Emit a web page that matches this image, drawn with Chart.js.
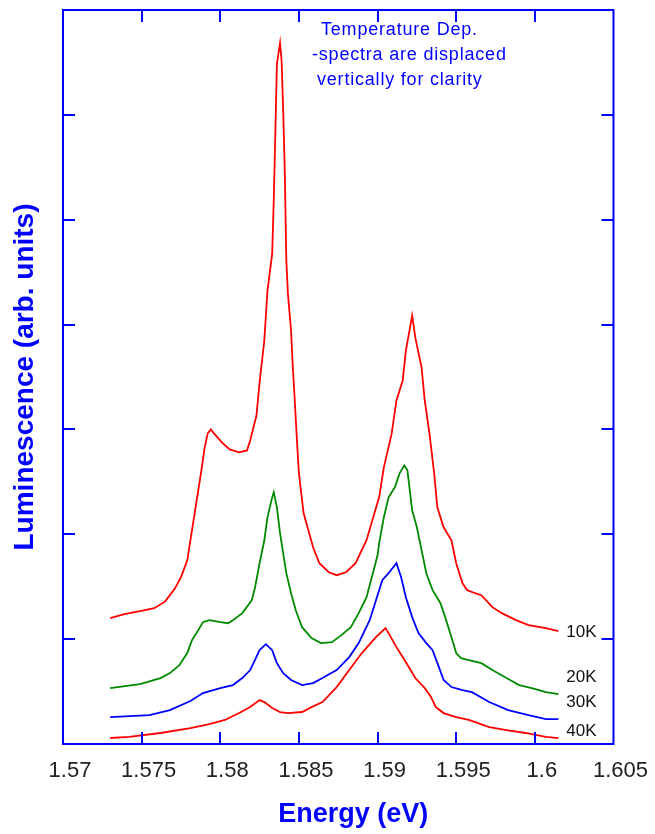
<!DOCTYPE html>
<html>
<head>
<meta charset="utf-8">
<title>Luminescence spectra</title>
<script src="https://cdn.jsdelivr.net/npm/chart.js@4/dist/chart.umd.min.js"></script>
<style>
  html, body { margin: 0; padding: 0; background: #fff; }
  canvas { display: block; }
</style>
</head>
<body>
<canvas id="spec" width="655" height="834"></canvas>
<script>
// Espectros de luminiscencia [energía (eV), intensidad desplazada]
const k10 = [
  [1.5730,1.200],[1.5739,1.238],[1.5749,1.267],[1.5758,1.295],[1.5765,1.360],[1.5771,1.480],
  [1.5775,1.590],[1.5779,1.752],[1.5782,2.038],[1.5785,2.324],[1.5788,2.610],[1.5790,2.819],
  [1.5792,2.962],[1.5794,3.000],[1.5796,2.962],[1.5801,2.876],[1.5806,2.810],[1.5812,2.781],
  [1.5817,2.800],[1.5819,2.895],[1.5823,3.133],[1.5825,3.448],[1.5828,3.848],[1.5830,4.324],
  [1.5833,4.676],[1.5834,5.181],[1.5835,5.819],[1.5836,6.486],[1.5838,6.686],[1.5839,6.514],
  [1.5840,6.038],[1.5841,5.467],[1.5842,4.610],[1.5843,4.295],[1.5845,3.943],[1.5846,3.629],
  [1.5847,3.371],[1.5849,2.829],[1.5850,2.581],[1.5853,2.200],[1.5859,1.876],[1.5863,1.724],
  [1.5869,1.638],[1.5874,1.610],[1.5880,1.638],[1.5886,1.724],[1.5893,1.943],[1.5898,2.200],
  [1.5901,2.352],[1.5904,2.638],[1.5909,2.962],[1.5912,3.276],[1.5916,3.467],[1.5918,3.752],
  [1.5922,4.086],[1.5924,3.876],[1.5928,3.590],[1.5930,3.276],[1.5933,2.962],[1.5936,2.581],
  [1.5938,2.257],[1.5942,2.067],[1.5947,1.943],[1.5950,1.724],[1.5954,1.533],[1.5957,1.467],
  [1.5962,1.438],[1.5966,1.419],[1.5973,1.305],[1.5979,1.248],[1.5988,1.181],[1.5996,1.133],
  [1.6007,1.105],[1.6015,1.076]
];
const k20 = [
  [1.5730,0.533],[1.5749,0.571],[1.5762,0.629],[1.5768,0.676],[1.5774,0.752],[1.5779,0.867],
  [1.5782,0.990],[1.5786,1.086],[1.5789,1.162],[1.5793,1.181],[1.5800,1.162],[1.5805,1.152],
  [1.5808,1.181],[1.5814,1.248],[1.5820,1.371],[1.5822,1.486],[1.5825,1.724],[1.5828,1.943],
  [1.5830,2.162],[1.5833,2.352],[1.5834,2.400],[1.5836,2.257],[1.5838,2.010],[1.5840,1.819],
  [1.5842,1.629],[1.5845,1.438],[1.5848,1.276],[1.5852,1.114],[1.5858,1.010],[1.5864,0.962],
  [1.5871,0.971],[1.5877,1.038],[1.5883,1.114],[1.5888,1.248],[1.5893,1.400],[1.5897,1.629],
  [1.5900,1.800],[1.5901,1.914],[1.5904,2.162],[1.5907,2.352],[1.5911,2.448],[1.5914,2.581],
  [1.5917,2.657],[1.5919,2.610],[1.5922,2.229],[1.5925,2.067],[1.5928,1.848],[1.5931,1.629],
  [1.5935,1.467],[1.5940,1.343],[1.5943,1.210],[1.5947,1.019],[1.5950,0.867],[1.5953,0.819],
  [1.5958,0.800],[1.5966,0.771],[1.5973,0.705],[1.5982,0.629],[1.5990,0.562],[1.5998,0.533],
  [1.6007,0.495],[1.6015,0.476]
];
const k30 = [
  [1.5730,0.257],[1.5755,0.276],[1.5768,0.324],[1.5781,0.410],[1.5789,0.486],[1.5800,0.533],
  [1.5808,0.562],[1.5814,0.629],[1.5819,0.705],[1.5822,0.800],[1.5825,0.895],[1.5829,0.952],
  [1.5833,0.895],[1.5836,0.771],[1.5840,0.676],[1.5845,0.610],[1.5852,0.562],[1.5859,0.581],
  [1.5865,0.629],[1.5874,0.705],[1.5882,0.829],[1.5888,0.962],[1.5895,1.181],[1.5899,1.371],
  [1.5903,1.562],[1.5907,1.629],[1.5912,1.724],[1.5915,1.590],[1.5918,1.400],[1.5922,1.210],
  [1.5926,1.057],[1.5931,0.962],[1.5935,0.895],[1.5939,0.733],[1.5942,0.610],[1.5947,0.543],
  [1.5954,0.514],[1.5960,0.495],[1.5971,0.400],[1.5983,0.324],[1.5996,0.276],[1.6007,0.238],
  [1.6015,0.238]
];
const k40 = [
  [1.5730,0.057],[1.5742,0.067],[1.5762,0.105],[1.5781,0.152],[1.5793,0.190],[1.5803,0.229],
  [1.5812,0.295],[1.5819,0.352],[1.5825,0.419],[1.5828,0.400],[1.5833,0.343],[1.5838,0.305],
  [1.5843,0.295],[1.5852,0.305],[1.5858,0.352],[1.5865,0.400],[1.5874,0.543],[1.5882,0.705],
  [1.5890,0.867],[1.5899,1.019],[1.5905,1.105],[1.5907,1.057],[1.5912,0.924],[1.5916,0.829],
  [1.5921,0.705],[1.5924,0.629],[1.5930,0.533],[1.5934,0.448],[1.5937,0.352],[1.5942,0.295],
  [1.5950,0.257],[1.5958,0.229],[1.5971,0.162],[1.5982,0.133],[1.5994,0.105],[1.6007,0.067],
  [1.6015,0.057]
];

const temps   = ['10K', '20K', '30K', '40K'];
const colores = ['#ff0000', '#008a00', '#0000ff', '#ff0000'];
// posición de las etiquetas de temperatura (energía, intensidad)
const etiqX = 1.6020;
const etiqY = [1.067, 0.638, 0.400, 0.124];
const nota  = ['Temperature Dep.', '-spectra are displaced', 'vertically for clarity'];

const azul = '#0000ff';
const fuente = '"Liberation Sans", Arial, sans-serif';

// Marco azul con marcas hacia dentro en los cuatro lados
const marco = {
  id: 'marco',
  afterDatasetsDraw(chart) {
    const { ctx, chartArea: a, scales: { x, y } } = chart;
    const L = 12;
    ctx.save();
    ctx.strokeStyle = azul;
    ctx.lineWidth = 2;
    ctx.beginPath();
    x.ticks.forEach(t => {
      if (t.value <= x.min || t.value >= x.max) return;
      const px = Math.round(x.getPixelForValue(t.value));
      ctx.moveTo(px, a.bottom); ctx.lineTo(px, a.bottom - L);
      ctx.moveTo(px, a.top);    ctx.lineTo(px, a.top + L);
    });
    y.ticks.forEach(t => {
      if (t.value <= y.min || t.value >= y.max) return;
      const py = Math.round(y.getPixelForValue(t.value));
      ctx.moveTo(a.left, py);  ctx.lineTo(a.left + L, py);
      ctx.moveTo(a.right, py); ctx.lineTo(a.right - L, py);
    });
    ctx.stroke();
    ctx.strokeRect(a.left, a.top, a.right - a.left, a.bottom - a.top);

    // etiquetas de cada espectro
    ctx.fillStyle = '#111';
    ctx.font = '17px ' + fuente;
    ctx.textBaseline = 'middle';
    ctx.textAlign = 'left';
    temps.forEach((t, i) => {
      ctx.fillText(t, x.getPixelForValue(etiqX), y.getPixelForValue(etiqY[i]));
    });

    // título del eje x, algo desplazado a la derecha
    ctx.fillStyle = azul;
    ctx.font = 'bold 27px ' + fuente;
    ctx.textAlign = 'center';
    ctx.fillText('Energy (eV)', (a.left + a.right) / 2 + 15, chart.height - 19);

    // nota en la parte superior
    ctx.font = '18px ' + fuente;
    ctx.textAlign = 'left';
    ctx.letterSpacing = '0.8px';
    const nx = [a.left + 258, a.left + 249, a.left + 254];
    nota.forEach((s, i) => ctx.fillText(s, nx[i], a.top + 20 + i * 25));
    ctx.restore();
  }
};

const datasets = [k10, k20, k30, k40].map((serie, i) => ({
  label: temps[i],
  data: serie.map(p => ({ x: p[0], y: p[1] })),
  borderColor: colores[i],
  borderWidth: 1.8,
  pointRadius: 0,
  tension: 0,
  fill: false
}));

new Chart(document.getElementById('spec'), {
  type: 'line',
  data: { datasets },
  options: {
    responsive: false,
    animation: false,
    layout: { padding: { top: 10, right: 40, left: 0, bottom: 0 } },
    plugins: { legend: { display: false }, tooltip: { enabled: false } },
    scales: {
      x: {
        type: 'linear',
        min: 1.57, max: 1.605,
        grid: { display: false, drawTicks: false },
        border: { display: false },
        ticks: {
          stepSize: 0.005,
          padding: 14,
          labelOffset: 7,
          color: '#222',
          font: { family: fuente, size: 22 },
          callback: v => String(+v.toFixed(3))
        },
        afterFit: s => { s.height = 90; }
      },
      y: {
        min: 0, max: 7,
        grid: { display: false, drawTicks: false },
        border: { display: false },
        ticks: { stepSize: 1, display: false },
        title: {
          display: true,
          text: 'Luminescence (arb. units)',
          color: azul,
          font: { family: fuente, size: 28, weight: 'bold', lineHeight: 1 },
          padding: { top: 11, bottom: 0 }
        },
        afterFit: s => { s.width = 63; }
      }
    }
  },
  plugins: [marco]
});
</script>
</body>
</html>
